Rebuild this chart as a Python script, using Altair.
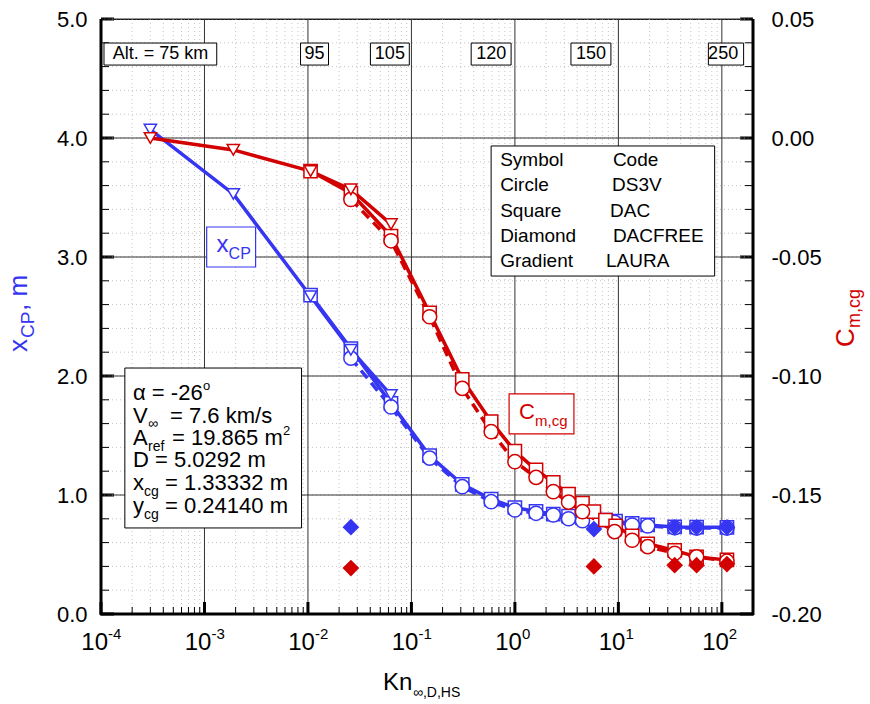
import altair as alt
import pandas as pd

# ---------------- data ----------------
kn_laura = [3.0e-4, 1.9e-3, 0.0106, 0.026, 0.0635]
xcp_laura = [4.07, 3.53, 2.67, 2.22, 1.84]
cm_laura = [0.0, -0.005, -0.0139, -0.0216, -0.0362]

kn_dac = [0.0106, 0.026, 0.0635, 0.15, 0.31, 0.59, 1.0, 1.6, 2.35, 3.3, 4.5, 5.8, 7.5, 9.4, 13.6, 19.2, 35, 57, 112]
xcp_dac = [2.68, 2.23, 1.77, 1.33, 1.09, 0.965, 0.895, 0.862, 0.84, 0.822, 0.808, 0.80, 0.79, 0.78, 0.762, 0.748, 0.732, 0.73, 0.728]
cm_dac = [-0.0139, -0.0232, -0.0412, -0.0735, -0.1014, -0.1192, -0.1316, -0.1394, -0.1447, -0.1496, -0.1534, -0.157, -0.1605, -0.163, -0.1672, -0.1705, -0.1733, -0.176, -0.1773]

kn_ds3v = [0.026, 0.0635, 0.15, 0.31, 0.59, 1.0, 1.6, 2.35, 3.3, 4.5, 9.2, 13.6, 19.2, 35, 57, 112]
xcp_ds3v = [2.15, 1.74, 1.31, 1.07, 0.944, 0.874, 0.846, 0.832, 0.80, 0.784, 0.77, 0.748, 0.74, 0.725, 0.722, 0.722]
cm_ds3v = [-0.0258, -0.0432, -0.0751, -0.1052, -0.1234, -0.136, -0.1426, -0.1486, -0.153, -0.157, -0.1654, -0.169, -0.1717, -0.1745, -0.176, -0.1778]

kn_dacfree = [0.026, 5.8, 35, 57, 112]
xcp_dacfree = [0.73, 0.714, 0.728, 0.728, 0.728]
cm_dacfree = [-0.1807, -0.18, -0.1795, -0.1795, -0.179]

# axis ticks / labels
decades = [1e-4, 1e-3, 1e-2, 1e-1, 1.0, 10.0, 100.0]
decade_exp = ["-4", "-3", "-2", "-1", "0", "1", "2"]
kn_minor = [m * d for d in decades for m in range(2, 10) if m * d <= 200]
left_major = [0, 1, 2, 3, 4, 5]
left_minor = [round(i * 0.2, 1) for i in range(26)]
right_major = [-0.2, -0.15, -0.1, -0.05, 0.0, 0.05]
right_minor = [round(-0.2 + i * 0.01, 2) for i in range(26)]

# altitude labels along the top
alt_text = ["Alt. = 75 km", "95", "105", "120", "150", "250"]
alt_kn = [3.75e-4, 0.01158, 0.0619, 0.5896, 5.43, 102.9]
alt_lo = [1.069e-4, 8.48e-3, 4.015e-2, 0.378, 3.48, 74.1]
alt_hi = [1.314e-3, 1.58e-2, 9.54e-2, 0.919, 8.47, 162.3]

# code table
tab_left = ["Symbol", "Circle", "Square", "Diamond", "Gradient"]
tab_right = ["Code", "DS3V", "DAC", "DACFREE", "LAURA"]
tab_y = [3.815, 3.605, 3.387, 3.176, 2.966]
tab_right_kn = [8.85, 8.68, 8.3, 8.85, 7.6]

BLUE = "#3535f2"
RED = "#d20000"
FONT = "Liberation Sans"
W, H = 652, 595

xs = alt.Scale(type="log", domain=[1e-4, 200], nice=False)
yls = alt.Scale(domain=[0, 5], nice=False, zero=False)
yrs = alt.Scale(domain=[-0.2, 0.05], nice=False, zero=False)


def df2(kn, v):
    return pd.DataFrame({"kn": kn, "v": v})


def X(field="kn"):
    return alt.X(f"{field}:Q", scale=xs, axis=None, title=None)


def YL(axis=None, field="v"):
    return alt.Y(f"{field}:Q", scale=yls, axis=axis, title=None)


def YR(axis=None, field="v"):
    return alt.Y(f"{field}:Q", scale=yrs, axis=axis, title=None)


def label(kn, yv, s, size, color="black", dx=0, dy=0, align="left", baseline="alphabetic"):
    d = pd.DataFrame({"kn": [kn], "v": [yv], "t": [s]})
    return alt.Chart(d).mark_text(font=FONT, fontSize=size, color=color, dx=dx, dy=dy,
                                  align=align, baseline=baseline).encode(x=X(), y=YL(), text="t:N")


def plabel(px, py, s, size, color="black", dx=0, dy=0, align="left", baseline="alphabetic", angle=0):
    d = pd.DataFrame({"t": [s]})
    return alt.Chart(d).mark_text(font=FONT, fontSize=size, color=color, dx=dx, dy=dy, align=align,
                                  baseline=baseline, angle=angle).encode(
        x=alt.value(px), y=alt.value(py), text="t:N")


def box(lo, hi, yb, yt, color="black", width=1.0):
    d = pd.DataFrame({"lo": lo, "hi": hi, "yb": yb, "yt": yt})
    return alt.Chart(d).mark_rect(fill="white", stroke=color, strokeWidth=width).encode(
        x=X(field="lo"), x2="hi:Q", y=YL(field="yb"), y2="yt:Q")


yl_axis = alt.Axis(orient="left", values=left_major, format=".1f", labelFont=FONT, labelFontSize=22,
                   labelColor="black", labelPadding=14, ticks=False, domain=False, grid=False, title=None)
yr_axis = alt.Axis(orient="right", values=right_major,
                   labelExpr="replace(format(datum.value, '.2f'), '\u2212', '-')",
                   labelFont=FONT, labelFontSize=22, labelColor="black", labelPadding=18, ticks=False,
                   domain=False, grid=False, title=None)

minor_x = pd.DataFrame({"kn": kn_minor})
minor_yl = pd.DataFrame({"v": left_minor})
major_x = pd.DataFrame({"kn": decades, "e": decade_exp})
major_yl = pd.DataFrame({"v": left_major})
minor_yr = pd.DataFrame({"v": right_minor})
major_yr = pd.DataFrame({"v": right_major})

GRID = "#333333"
grid_minor_x = alt.Chart(minor_x).mark_rule(color="#c4c4c4", strokeDash=[1, 3], strokeWidth=1).encode(x=X())
grid_minor_y = alt.Chart(minor_yl).mark_rule(color="#c4c4c4", strokeDash=[1, 3], strokeWidth=1).encode(y=YL())
grid_major_x = alt.Chart(major_x).mark_rule(color=GRID, strokeWidth=1).encode(x=X())
grid_major_y = alt.Chart(major_yl).mark_rule(color=GRID, strokeWidth=1).encode(y=YL())

tick_minor_x = alt.Chart(minor_x).mark_rule(color="black", strokeWidth=1).encode(
    x=X(), y=alt.value(H), y2=alt.value(H - 7))
tick_major_x = alt.Chart(major_x).mark_rule(color="black", strokeWidth=3).encode(
    x=X(), y=alt.value(H), y2=alt.value(H - 12))
tick_minor_yl = alt.Chart(minor_yl).mark_rule(color="black", strokeWidth=1).encode(
    y=YL(), x=alt.value(0), x2=alt.value(8))
tick_major_yl = alt.Chart(major_yl).mark_rule(color="black", strokeWidth=3).encode(
    y=YL(yl_axis), x=alt.value(0), x2=alt.value(13))
tick_minor_yr = alt.Chart(minor_yr).mark_rule(color="black", strokeWidth=1).encode(
    y=YR(), x=alt.value(W), x2=alt.value(W - 8))
tick_major_yr = alt.Chart(major_yr).mark_rule(color="black", strokeWidth=3).encode(
    y=YR(yr_axis), x=alt.value(W), x2=alt.value(W - 13))

# thick frame on left, right and bottom
frame_one = pd.DataFrame({"t": ["frame"]})
frame_left = alt.Chart(frame_one).mark_rule(color="black", strokeWidth=3).encode(
    x=alt.value(0), y=alt.value(0), y2=alt.value(H + 1))
frame_right = alt.Chart(frame_one).mark_rule(color="black", strokeWidth=3).encode(
    x=alt.value(W), y=alt.value(0), y2=alt.value(H + 1))
frame_bottom = alt.Chart(frame_one).mark_rule(color="black", strokeWidth=3).encode(
    y=alt.value(H), x=alt.value(-1), x2=alt.value(W + 1))

xlab_base = alt.Chart(major_x).mark_text(font=FONT, fontSize=24, align="right", dx=7, baseline="alphabetic").encode(
    x=X(), y=alt.value(H + 36), text=alt.value("10"))
xlab_exp = alt.Chart(major_x).mark_text(font=FONT, fontSize=15, align="left", dx=7, dy=-11, baseline="alphabetic").encode(
    x=X(), y=alt.value(H + 36), text="e:N")

# altitude boxes
alt_df = pd.DataFrame({"kn": alt_kn, "t": alt_text, "v": [4.706] * 6})
alt_boxes = box(alt_lo, alt_hi, [4.613] * 6, [4.798] * 6)
alt_labels = alt.Chart(alt_df).mark_text(font=FONT, fontSize=18, baseline="middle", align="center").encode(
    x=X(), y=YL(), text="t:N")

# code table
tab_box = box([0.589], [85.2], [2.84], [3.933])
tab_l = alt.Chart(pd.DataFrame({"kn": [0.72] * 5, "v": tab_y, "t": tab_left})).mark_text(
    font=FONT, fontSize=19, align="left", baseline="middle").encode(x=X(), y=YL(), text="t:N")
tab_r = alt.Chart(pd.DataFrame({"kn": tab_right_kn, "v": tab_y, "t": tab_right})).mark_text(
    font=FONT, fontSize=19, align="left", baseline="middle").encode(x=X(), y=YL(), text="t:N")

# parameter box
par_box = box([1.70e-4], [8.67e-3], [0.723], [2.067])
pk = 2.04e-4
par_texts = [
    label(pk, 1.798, "α = -26", 22), label(pk, 1.798, "o", 13, dx=70, dy=-10),
    label(pk, 1.605, "V", 22), label(pk, 1.605, "∞", 14, dx=15, dy=5), label(pk, 1.605, "= 7.6 km/s", 22, dx=37),
    label(pk, 1.420, "A", 22), label(pk, 1.420, "ref", 14, dx=15, dy=6), label(pk, 1.420, "= 19.865 m", 22, dx=39),
    label(pk, 1.420, "2", 13, dx=150, dy=-10),
    label(pk, 1.235, "D = 5.0292 m", 22),
    label(pk, 1.042, "x", 22), label(pk, 1.042, "cg", 14, dx=11, dy=6), label(pk, 1.042, "= 1.33332 m", 22, dx=32),
    label(pk, 0.849, "y", 22), label(pk, 0.849, "cg", 14, dx=11, dy=6), label(pk, 0.849, "= 0.24140 m", 22, dx=32),
]

# curve labels
xcp_box = box([1.05e-3], [3.12e-3], [2.916], [3.252], BLUE, 1.2)
xcp_txt = [label(1.31e-3, 3.042, "x", 24, BLUE), label(1.31e-3, 3.042, "CP", 16, BLUE, dx=12, dy=7)]
cm_box = box([0.879], [3.72], [1.513], [1.849], RED, 1.2)
cm_txt = [label(1.097, 1.639, "C", 22, RED), label(1.097, 1.639, "m,cg", 15, RED, dx=16, dy=7)]

# axis titles (outside the plot area)
titles = [
    plabel(-74, 333, "x", 26, BLUE, angle=270), plabel(-74, 333, "CP", 19, BLUE, dx=14, dy=7, angle=270),
    plabel(-74, 333, ", m", 26, BLUE, dx=41, angle=270),
    plabel(W + 101, 328, "C", 26, RED, angle=270), plabel(W + 101, 328, "m,cg", 18, RED, dx=19, dy=6, angle=270),
    plabel(282, H + 76, "Kn", 24), plabel(282, H + 76, "∞,D,HS", 14, dx=30, dy=7),
]

LW = 3.5
b_laura, b_dac, b_ds3v, b_free = (df2(kn_laura, xcp_laura), df2(kn_dac, xcp_dac),
                                  df2(kn_ds3v, xcp_ds3v), df2(kn_dacfree, xcp_dacfree))
r_laura, r_dac, r_ds3v, r_free = (df2(kn_laura, cm_laura), df2(kn_dac, cm_dac),
                                  df2(kn_ds3v, cm_ds3v), df2(kn_dacfree, cm_dacfree))


def curve_layers(d_laura, d_dac, d_ds3v, d_free, Yf, color):
    return [
        alt.Chart(d_laura).mark_line(color=color, strokeWidth=LW).encode(x=X(), y=Yf()),
        alt.Chart(d_dac).mark_line(color=color, strokeWidth=LW).encode(x=X(), y=Yf()),
        alt.Chart(d_ds3v).mark_line(color=color, strokeWidth=LW, strokeDash=[10, 6]).encode(x=X(), y=Yf()),
        alt.Chart(d_dac).mark_point(shape="square", size=175, filled=True, fill="white",
                                    stroke=color, strokeWidth=1.5, opacity=1).encode(x=X(), y=Yf()),
        alt.Chart(d_ds3v).mark_point(shape="circle", size=200, filled=True, fill="white",
                                     stroke=color, strokeWidth=1.5, opacity=1).encode(x=X(), y=Yf()),
        alt.Chart(d_laura).mark_point(shape="triangle-down", size=150, filled=True, fill="white",
                                      stroke=color, strokeWidth=1.5, opacity=1).encode(x=X(), y=Yf()),
        alt.Chart(d_free).mark_point(shape="diamond", size=280, filled=True, color=color,
                                     opacity=1).encode(x=X(), y=Yf()),
    ]


layers = [tick_major_yl, tick_major_yr, grid_minor_x, grid_minor_y, grid_major_x, grid_major_y,
          tick_minor_x, tick_major_x, tick_minor_yl, tick_minor_yr, xlab_base, xlab_exp,
          alt_boxes, alt_labels, tab_box, tab_l, tab_r, par_box, *par_texts,
          xcp_box, *xcp_txt, cm_box, *cm_txt, *titles]
layers += curve_layers(b_laura, b_dac, b_ds3v, b_free, YL, BLUE)
layers += curve_layers(r_laura, r_dac, r_ds3v, r_free, YR, RED)
layers += [frame_left, frame_right, frame_bottom]

chart = alt.layer(*layers).resolve_scale(y="independent").properties(
    width=W, height=H,
    autosize=alt.AutoSizeParams(type="none"),
    padding={"left": 101, "top": 19, "right": 117, "bottom": 90},
    background="white",
).configure_view(stroke="black", strokeWidth=1)

chart.save("out.html", embed_options={"renderer": "svg", "actions": False})
